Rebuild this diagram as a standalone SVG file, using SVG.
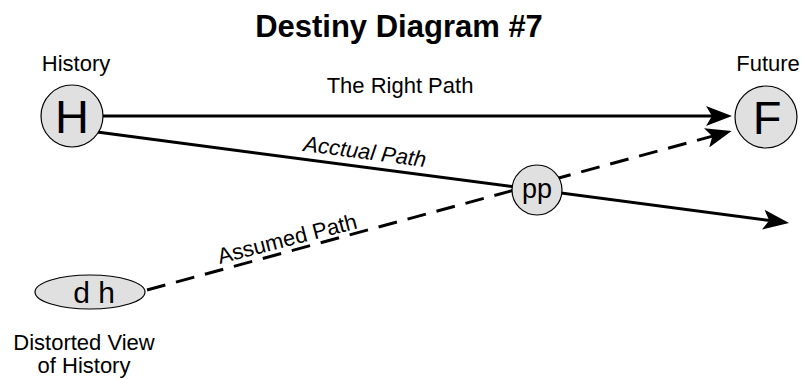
<svg xmlns="http://www.w3.org/2000/svg" width="803" height="379" viewBox="0 0 803 379">
<style>
text{font-family:"Liberation Sans",Arial,sans-serif;fill:#000}
.lbl{font-size:22px}
.ttl{font-size:31px;font-weight:bold}
.node{fill:#e0e0e0;stroke:#000;stroke-width:1.2}
.big{font-size:47px}
.conn{stroke:#000;stroke-width:3;fill:none}
.dash{stroke-dasharray:19 11}
</style>
<defs>
<marker id="arr" markerUnits="userSpaceOnUse" viewBox="0 0 26 20" markerWidth="26" markerHeight="20" refX="16" refY="10" orient="auto">
<path d="M0,0 L26,10 L0,20 L6,10 Z" fill="#000"/>
</marker>
</defs>
<rect width="803" height="379" fill="#fff"/>
<text class="ttl" x="399" y="37" text-anchor="middle">Destiny Diagram #7</text>
<g id="connectors">
<line class="conn" x1="103" y1="116" x2="722" y2="116" marker-end="url(#arr)"/>
<line class="conn" x1="97" y1="132" x2="779.1" y2="221.7" marker-end="url(#arr)"/>
<line class="conn dash" x1="147" y1="290" x2="722" y2="133.6" marker-end="url(#arr)"/>
<text class="lbl" x="400" y="93" text-anchor="middle">The Right Path</text>
<text class="lbl" font-style="italic" text-anchor="middle" transform="translate(364,159) rotate(7.5)">Acctual Path</text>
<text class="lbl" text-anchor="middle" transform="translate(289,246) rotate(-14.5)">Assumed Path</text>
</g>
<g id="H">
<circle class="node" cx="72" cy="116" r="31"/>
<text class="big" x="72" y="133" text-anchor="middle">H</text>
<text class="lbl" x="76" y="71" text-anchor="middle">History</text>
</g>
<g id="F">
<circle class="node" cx="766" cy="117" r="31"/>
<text class="big" x="767" y="134" text-anchor="middle">F</text>
<text class="lbl" x="768" y="71" text-anchor="middle">Future</text>
</g>
<g id="pp">
<circle class="node" cx="537" cy="190" r="25"/>
<text x="537" y="198" text-anchor="middle" font-size="27">pp</text>
</g>
<g id="dh">
<ellipse class="node" cx="90" cy="292" rx="55" ry="17"/>
<text x="94" y="302.5" text-anchor="middle" font-size="30">d h</text>
<text class="lbl" x="84" y="350" text-anchor="middle">Distorted View</text>
<text class="lbl" x="84" y="373" text-anchor="middle">of History</text>
</g>
</svg>
